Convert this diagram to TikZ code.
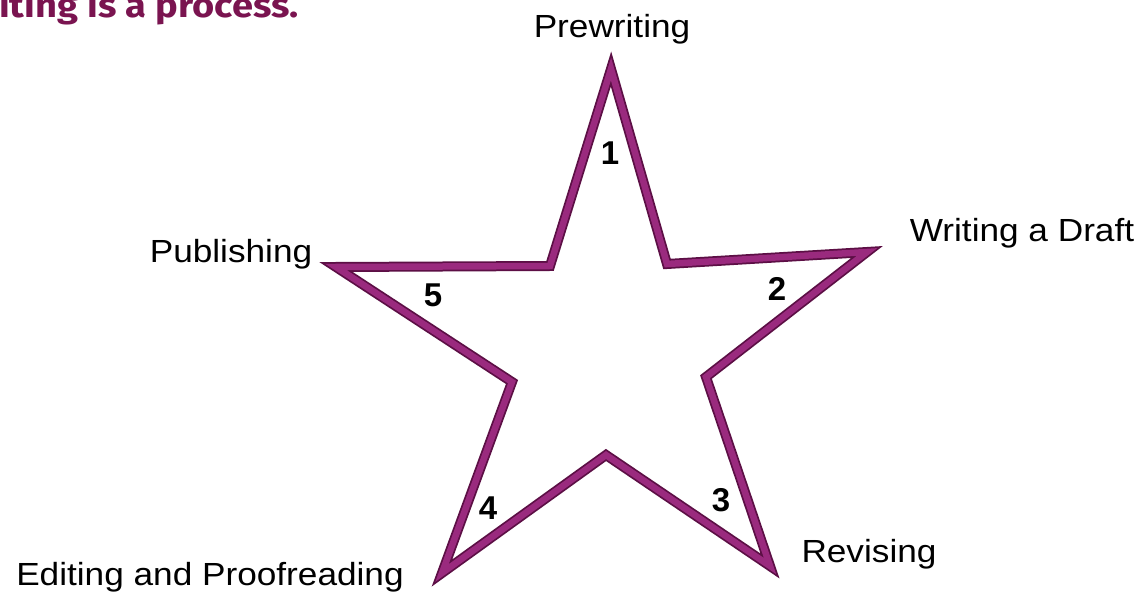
\documentclass[tikz,border=0pt]{standalone}
\usepackage{fontspec}
\setmainfont{Liberation Sans}
\newfontfamily\labfont[FakeStretch=1.1]{Liberation Sans}
\newfontfamily\titlefont[FakeStretch=1.12]{Fira Sans}
\definecolor{stardark}{HTML}{5C0F45}
\definecolor{starmid}{HTML}{9A2A7E}
\definecolor{titlecol}{HTML}{7A1450}
\tikzset{
  lab/.style={font=\labfont\fontsize{32}{36}\selectfont, text=black, inner sep=0pt},
  num/.style={font=\bfseries\fontsize{33}{36}\selectfont, text=black, inner sep=0pt},
  starouter/.style={line width=10pt, draw=stardark, line join=miter, fill=white},
  starinner/.style={line width=6.5pt, draw=starmid, line join=miter},
}
\begin{document}
\begin{tikzpicture}[x=1pt,y=-1pt]
\useasboundingbox (0,0) rectangle (1141,601);
\clip (0,0) rectangle (1141,601);
\fill[white] (0,0) rectangle (1141,601);
% title fragment
\node[anchor=base west, inner sep=0pt, text=titlecol, font=\titlefont\bfseries\fontsize{34}{38}\selectfont] (title) at (-1,18) {iting is a process.};
% star
\coordinate (T) at (611,69);
\coordinate (iTR) at (667,264);
\coordinate (R) at (867,252);
\coordinate (iR) at (706,377);
\coordinate (BR) at (770,566);
\coordinate (iB) at (606,455);
\coordinate (BL) at (442,573);
\coordinate (iL) at (512,382);
\coordinate (L) at (336,267);
\coordinate (iTL) at (550,266);
\draw[starouter] (T) -- (iTR) -- (R) -- (iR) -- (BR) -- (iB) -- (BL) -- (iL) -- (L) -- (iTL) -- cycle;
\draw[starinner] (T) -- (iTR) -- (R) -- (iR) -- (BR) -- (iB) -- (BL) -- (iL) -- (L) -- (iTL) -- cycle;
% labels
\node[lab] (pre) at (612,29) {Prewriting};
\node[lab] (draft) at (1022,233) {Writing a Draft};
\node[lab] (pub) at (231,254) {Publishing};
\node[lab] (rev) at (869,554) {Revising};
\node[lab] (edit) at (210,577) {Editing and Proofreading};
% numbers
\node[num] (n1) at (610,153) {1};
\node[num] (n2) at (777,289) {2};
\node[num] (n3) at (721,500) {3};
\node[num] (n4) at (488,508) {4};
\node[num] (n5) at (433,295) {5};
\end{tikzpicture}
\end{document}
